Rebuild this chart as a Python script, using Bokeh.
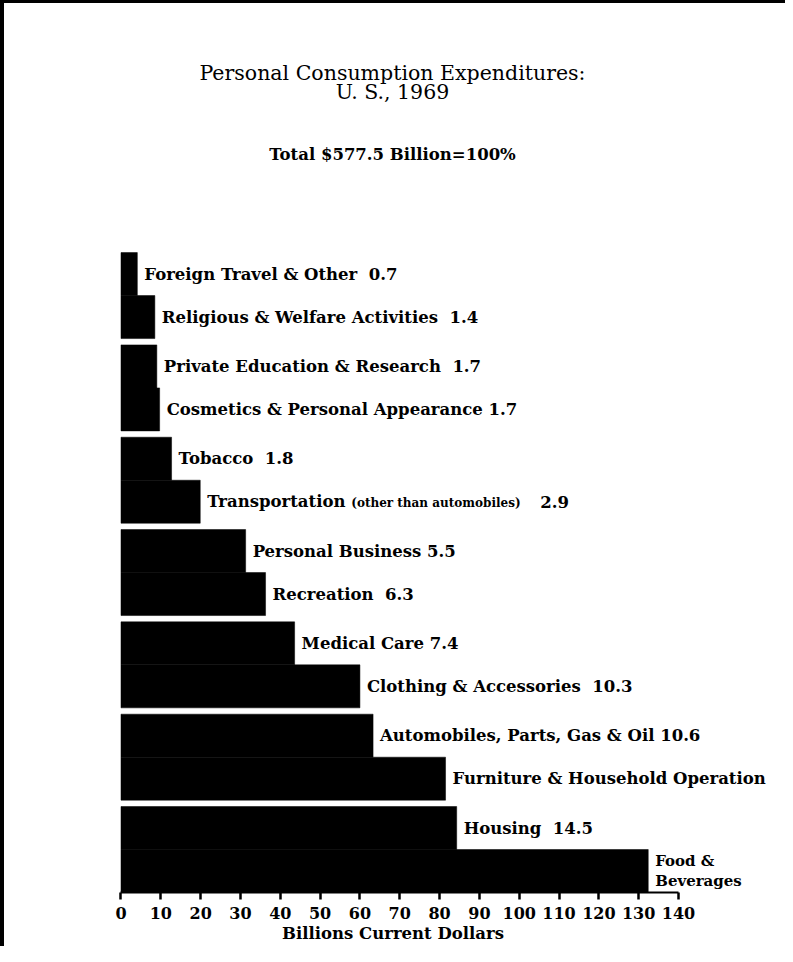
import numpy as np
from bokeh.plotting import figure
from bokeh.models import ColumnDataSource, Range1d, FixedTicker, Label, CDSView, IndexFilter
from bokeh.core.properties import value
from bokeh.embed import file_html
from bokeh.resources import INLINE

# ---------------- data (top to bottom) ----------------
categories = [
    "Foreign Travel & Other",
    "Religious & Welfare Activities",
    "Private Education & Research",
    "Cosmetics & Personal Appearance",
    "Tobacco",
    "Transportation",
    "Personal Business",
    "Recreation",
    "Medical Care",
    "Clothing & Accessories",
    "Automobiles, Parts, Gas & Oil",
    "Furniture & Household Operation",
    "Housing",
    "Food & Beverages",
]
billions = [4.1, 8.5, 9.0, 9.7, 12.7, 19.9, 31.3, 36.3, 43.6, 60.0, 63.3, 81.5, 84.3, 132.4]
shares = ["0.7", "1.4", "1.7", "1.7", "1.8", "2.9", "5.5", "6.3", "7.4", "10.3", "10.6", "", "14.5", ""]
transport_note = "(other than automobiles)"
ticks = [0, 10, 20, 30, 40, 50, 60, 70, 80, 90, 100, 110, 120, 130, 140]
title_line1 = "Personal Consumption Expenditures:"
title_line2 = "U. S., 1969"
subtitle = "Total $577.5 Billion=100%"
axis_title = "Billions Current Dollars"

# ---------------- layout constants ----------------
W, H = 785, 946
FRAME_H = 892
GROUP_GAP = 0.147          # gap between pairs of bars, in bar heights
FONT = "DejaVu Serif"
LABEL_SIZE = "16.5px"
WIDE_GAP = {"Foreign Travel & Other", "Religious & Welfare Activities", "Private Education & Research",
            "Tobacco", "Recreation", "Clothing & Accessories", "Housing"}

n = len(categories)
j = n - 1 - np.arange(n)                     # index from bottom
yc = (j // 2) * (2 + GROUP_GAP) + (j % 2) + 0.5

labels = []
for c, s in zip(categories, shares):
    if c == "Food & Beverages":
        labels.append("Food &\nBeverages")
    elif c == "Transportation":
        labels.append(c)
    elif s:
        sep = "\u00a0 " if c in WIDE_GAP else " "
        labels.append(f"{c}{sep}{s}")
    else:
        labels.append(c)

src = ColumnDataSource(dict(cat=categories, right=billions, y=yc, label=labels))
food_i = categories.index("Food & Beverages")
main_view = CDSView(filter=IndexFilter([i for i in range(n) if i != food_i]))
food_view = CDSView(filter=IndexFilter([food_i]))

p = figure(width=W, height=H, x_range=Range1d(-30.26, 166.87), y_range=Range1d(0, FRAME_H / 43),
           output_backend="svg", toolbar_location=None, y_axis_location=None,
           min_border_left=0, min_border_right=0, min_border_top=0, min_border_bottom=H - FRAME_H)
p.outline_line_color = None
p.grid.visible = False
p.background_fill_color = None
p.border_fill_color = None
# page frame of the original (left and top rules)
p.styles = {"box-shadow": "inset 4px 3px 0 0 #000", "background-color": "white"}

p.hbar(y="y", left=0, right="right", height=1.0, source=src,
       fill_color="black", line_color="black", line_width=0.5)

text_style = dict(text_align="left", text_baseline="middle", text_color="black",
                  text_font=value(FONT), text_font_style="bold")
p.text(x="right", y="y", text="label", source=src, view=main_view, x_offset=7,
       text_font_size=LABEL_SIZE, **text_style)
p.text(x="right", y="y", text="label", source=src, view=food_view, x_offset=7,
       text_font_size="15px", text_line_height=1.1, **text_style)

# Transportation extras: small parenthetical note and the share
ti = categories.index("Transportation")
tsrc = ColumnDataSource(dict(right=[billions[ti]], y=[yc[ti]], note=[transport_note], share=[shares[ti]]))
p.text(x="right", y="y", text="note", source=tsrc, x_offset=151, y_offset=1,
       text_font_size="12px", **text_style)
p.text(x="right", y="y", text="share", source=tsrc, x_offset=340,
       text_font_size=LABEL_SIZE, **text_style)

# Titles
p.add_layout(Label(x=392, y=FRAME_H - 72, x_units="screen", y_units="screen", text=title_line1,
                   text_align="center", text_baseline="alphabetic", text_font=FONT,
                   text_font_size="20.5px", text_color="black"))
p.add_layout(Label(x=392, y=FRAME_H - 91, x_units="screen", y_units="screen", text=title_line2,
                   text_align="center", text_baseline="alphabetic", text_font=FONT,
                   text_font_size="20.5px", text_color="black"))
p.add_layout(Label(x=392, y=FRAME_H - 154, x_units="screen", y_units="screen", text=subtitle,
                   text_align="center", text_baseline="alphabetic", text_font=FONT,
                   text_font_style="bold", text_font_size="16.5px", text_color="black"))

# Axis
ax = p.xaxis[0]
ax.ticker = FixedTicker(ticks=ticks)
ax.bounds = (0, 140)
ax.axis_line_width = 2
ax.axis_line_color = "black"
ax.major_tick_line_width = 2.5
ax.major_tick_line_color = "black"
ax.major_tick_in = 0
ax.major_tick_out = 7
ax.minor_tick_line_color = None
ax.major_label_standoff = 7
ax.major_label_text_font = FONT
ax.major_label_text_font_style = "bold"
ax.major_label_text_font_size = "16px"
ax.major_label_text_color = "black"
ax.axis_label = axis_title
ax.axis_label_standoff = 2
ax.axis_label_text_font = FONT
ax.axis_label_text_font_style = "bold"
ax.axis_label_text_font_size = "16.5px"
ax.axis_label_text_color = "black"

open("out.html", "w").write(file_html(p, INLINE))
